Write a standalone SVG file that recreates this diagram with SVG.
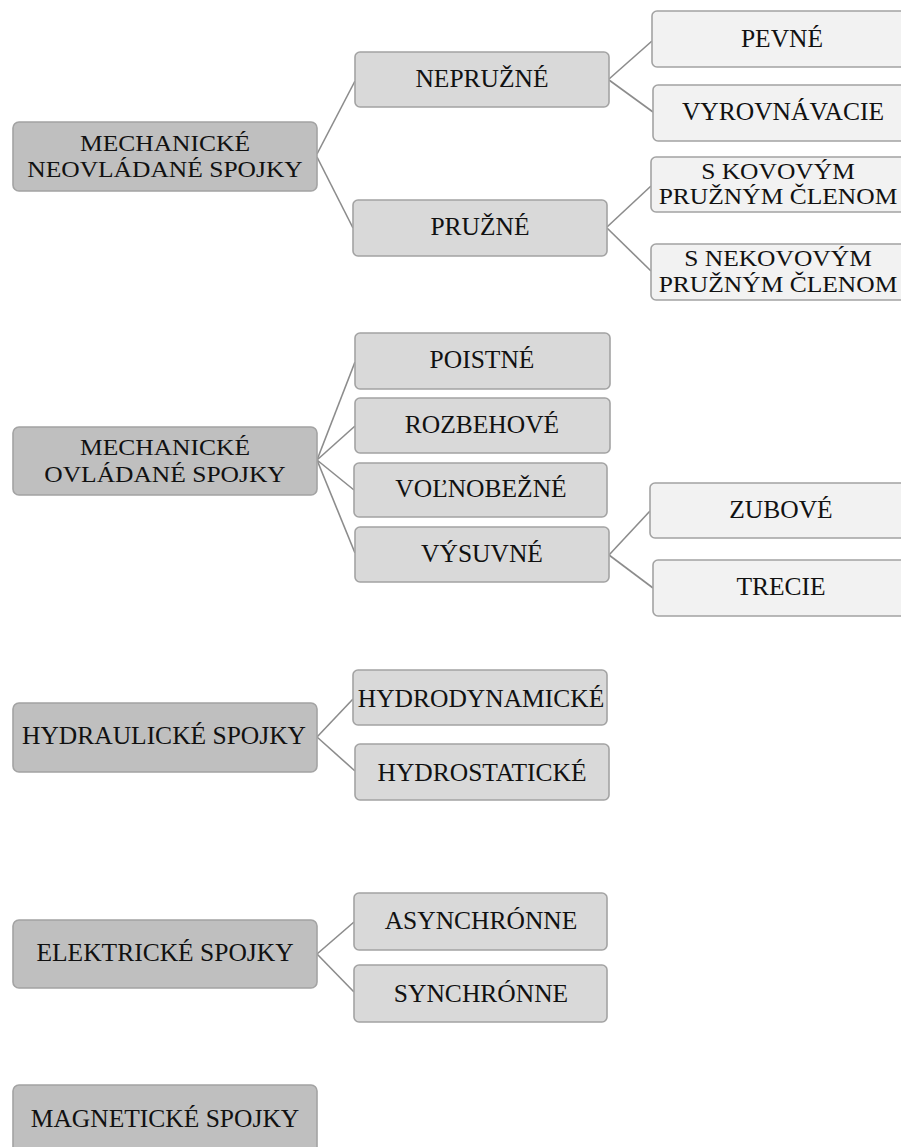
<svg xmlns="http://www.w3.org/2000/svg" width="901" height="1147" viewBox="0 0 901 1147">
<style>
.n rect{stroke:#a3a3a3;stroke-width:1.6}
.l1 rect{fill:#bfbfbf}
.l2 rect{fill:#d9d9d9}
.l3 rect{fill:#f2f2f2}
text{font-family:"Liberation Serif","Times New Roman",serif;font-size:25.5px;fill:#111;text-anchor:middle}
#connectors line{stroke:#8c8c8c;stroke-width:1.6;fill:none}
</style>
<rect x="0" y="0" width="901" height="1147" fill="#ffffff"/>
<g id="connectors">
<line x1="317" y1="154" x2="355" y2="81"/>
<line x1="317" y1="157" x2="353" y2="228"/>
<line x1="609" y1="79" x2="652" y2="41"/>
<line x1="609" y1="80" x2="653" y2="112"/>
<line x1="607" y1="227" x2="651" y2="186"/>
<line x1="607" y1="228" x2="651" y2="271"/>
<line x1="317" y1="460" x2="355" y2="362"/>
<line x1="317" y1="460" x2="355" y2="426"/>
<line x1="317" y1="460" x2="354" y2="490"/>
<line x1="317" y1="460" x2="355" y2="553"/>
<line x1="609" y1="555" x2="650" y2="511"/>
<line x1="609" y1="555" x2="653" y2="588"/>
<line x1="317" y1="737" x2="353" y2="699"/>
<line x1="317" y1="737" x2="355" y2="771"/>
<line x1="317" y1="954" x2="354" y2="922"/>
<line x1="317" y1="954" x2="354" y2="992"/>
</g>
<g id="n-mech-neovl" class="n l1"><rect x="13" y="122" width="304" height="69" rx="6"/>
<g transform="translate(165,151) scale(1,0.92)"><text x="0" y="0">MECHANICKÉ</text></g>
<g transform="translate(165,177) scale(1,0.92)"><text x="0" y="0">NEOVLÁDANÉ SPOJKY</text></g></g>
<g id="n-nepruzne" class="n l2"><rect x="355" y="52" width="254" height="55" rx="5"/><text x="482" y="87">NEPRUŽNÉ</text></g>
<g id="n-pruzne" class="n l2"><rect x="353" y="200" width="254" height="56" rx="5"/><text x="480" y="235">PRUŽNÉ</text></g>
<g id="n-pevne" class="n l3"><rect x="652" y="11" width="262" height="56" rx="5"/><text x="782" y="47">PEVNÉ</text></g>
<g id="n-vyrovnavacie" class="n l3"><rect x="653" y="85" width="262" height="56" rx="5"/><text x="783" y="120">VYROVNÁVACIE</text></g>
<g id="n-kovovym" class="n l3"><rect x="651" y="157" width="262" height="55" rx="5"/>
<g transform="translate(778,179) scale(1,0.9)"><text x="0" y="0">S KOVOVÝM</text></g>
<g transform="translate(778,204) scale(1,0.9)"><text x="0" y="0">PRUŽNÝM ČLENOM</text></g></g>
<g id="n-nekovovym" class="n l3"><rect x="651" y="244" width="262" height="56" rx="5"/>
<g transform="translate(778,266) scale(1,0.9)"><text x="0" y="0">S NEKOVOVÝM</text></g>
<g transform="translate(778,292) scale(1,0.9)"><text x="0" y="0">PRUŽNÝM ČLENOM</text></g></g>
<g id="n-mech-ovl" class="n l1"><rect x="13" y="427" width="304" height="68" rx="6"/>
<g transform="translate(165,455) scale(1,0.92)"><text x="0" y="0">MECHANICKÉ</text></g>
<g transform="translate(165,482) scale(1,0.92)"><text x="0" y="0">OVLÁDANÉ SPOJKY</text></g></g>
<g id="n-poistne" class="n l2"><rect x="355" y="333" width="255" height="56" rx="5"/><text x="482" y="368">POISTNÉ</text></g>
<g id="n-rozbehove" class="n l2"><rect x="355" y="398" width="255" height="55" rx="5"/><text x="482" y="433">ROZBEHOVÉ</text></g>
<g id="n-volnobezne" class="n l2"><rect x="354" y="463" width="253" height="54" rx="5"/><text x="481" y="497">VOĽNOBEŽNÉ</text></g>
<g id="n-vysuvne" class="n l2"><rect x="355" y="527" width="254" height="55" rx="5"/><text x="482" y="562">VÝSUVNÉ</text></g>
<g id="n-zubove" class="n l3"><rect x="650" y="483" width="262" height="55" rx="5"/><text x="781" y="518">ZUBOVÉ</text></g>
<g id="n-trecie" class="n l3"><rect x="653" y="560" width="262" height="56" rx="5"/><text x="781" y="595">TRECIE</text></g>
<g id="n-hydraulicke" class="n l1"><rect x="13" y="703" width="304" height="69" rx="6"/><text x="164" y="744">HYDRAULICKÉ SPOJKY</text></g>
<g id="n-hydrodynamicke" class="n l2"><rect x="353" y="670" width="254" height="55" rx="5"/><text x="481" y="707">HYDRODYNAMICKÉ</text></g>
<g id="n-hydrostaticke" class="n l2"><rect x="355" y="744" width="254" height="56" rx="5"/><text x="482" y="781">HYDROSTATICKÉ</text></g>
<g id="n-elektricke" class="n l1"><rect x="13" y="920" width="304" height="68" rx="6"/><text x="165" y="961">ELEKTRICKÉ SPOJKY</text></g>
<g id="n-asynchronne" class="n l2"><rect x="354" y="893" width="253" height="57" rx="5"/><text x="481" y="929">ASYNCHRÓNNE</text></g>
<g id="n-synchronne" class="n l2"><rect x="354" y="965" width="253" height="57" rx="5"/><text x="481" y="1002">SYNCHRÓNNE</text></g>
<g id="n-magneticke" class="n l1"><rect x="13" y="1085" width="304" height="69" rx="6"/><text x="165" y="1127">MAGNETICKÉ SPOJKY</text></g>
</svg>
